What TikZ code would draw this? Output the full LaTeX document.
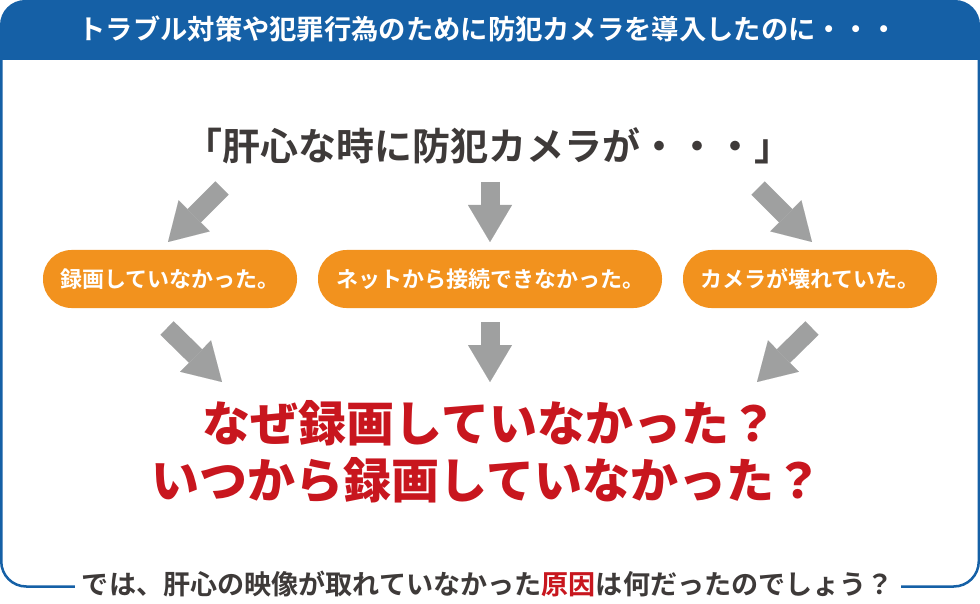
\documentclass[tikz,border=0pt]{standalone}
\usepackage{fontspec}
\setmainfont{Noto Sans CJK JP}[BoldFont={Noto Sans CJK JP Bold}]
\newfontfamily\heavyfont{Noto Sans CJK JP Black}
\usetikzlibrary{arrows.meta}
\definecolor{hdrblue}{RGB}{21,96,166}
\definecolor{pillorange}{RGB}{242,146,30}
\definecolor{arrowgray}{RGB}{159,160,160}
\definecolor{alertred}{RGB}{200,22,30}
\definecolor{textgray}{RGB}{62,58,57}

\begin{document}
\begin{tikzpicture}[x=1pt,y=-1pt,
  pill/.style={fill=pillorange, rounded corners=28.5pt, minimum height=58pt, inner sep=0pt,
    text=white, font=\bfseries\fontsize{22}{24}\selectfont},
  fatarrow/.style={draw=arrowgray, line width=19pt,
    -{Triangle[length=37pt, width=44pt, line width=0.01pt]}},
  darktext/.style={text=textgray, font=\bfseries\fontsize{#1}{#1}\selectfont}]
\useasboundingbox (0,0) rectangle (980,604);

% frame and header
\draw [hdrblue, line width=2.5pt, rounded corners=25pt] (1.25,30) rectangle (978.75,586.5);
\begin{scope}
  \clip [rounded corners=25pt] (0,0) rectangle (980,200);
  \fill [hdrblue] (0,0) rectangle (980,60);
\end{scope}
\node (header) at (488,29) [text=white, font=\bfseries\fontsize{27.3}{28}\selectfont]
  {トラブル対策や犯罪行為のために防犯カメラを導入したのに・・・};

\node (title) at (488,146) [darktext=38] {「肝心な時に防犯カメラが・・・」};

% the three cases
\node (case1) at (170,279) [pill, minimum width=254pt] {録画していなかった。};
\node (case2) at (490,279) [pill, minimum width=344pt] {ネットから接続できなかった。};
\node (case3) at (810,279) [pill, minimum width=254pt] {カメラが壊れていた。};

\node (why1) at (490,423) [text=alertred, font=\heavyfont\fontsize{48}{48}\selectfont]
  {なぜ録画していなかった？};
\node (why2) at (487,480) [text=alertred, font=\heavyfont\fontsize{48}{48}\selectfont]
  {いつから録画していなかった？};

% arrows
\coordinate (upLs) at (222,188);  \coordinate (upLe) at (168,242);
\coordinate (upMs) at (490,182);  \coordinate (upMe) at (490,242);
\coordinate (upRs) at (758,188);  \coordinate (upRe) at (812,242);
\coordinate (loLs) at (167,328);  \coordinate (loLe) at (222,382);
\coordinate (loMs) at (490,322);  \coordinate (loMe) at (490,382);
\coordinate (loRs) at (812,328);  \coordinate (loRe) at (757,382);
\draw [fatarrow] (upLs) -- (upLe);
\draw [fatarrow] (upMs) -- (upMe);
\draw [fatarrow] (upRs) -- (upRe);
\draw [fatarrow] (loLs) -- (loLe);
\draw [fatarrow] (loMs) -- (loMe);
\draw [fatarrow] (loRs) -- (loRe);

% closing question over the frame line
\node (question) at (488,584) [darktext=27.1, fill=white, inner xsep=7pt, inner ysep=1pt]
  {では、肝心の映像が取れていなかった\textcolor{alertred}{原因}は何だったのでしょう？};

\end{tikzpicture}
\end{document}
